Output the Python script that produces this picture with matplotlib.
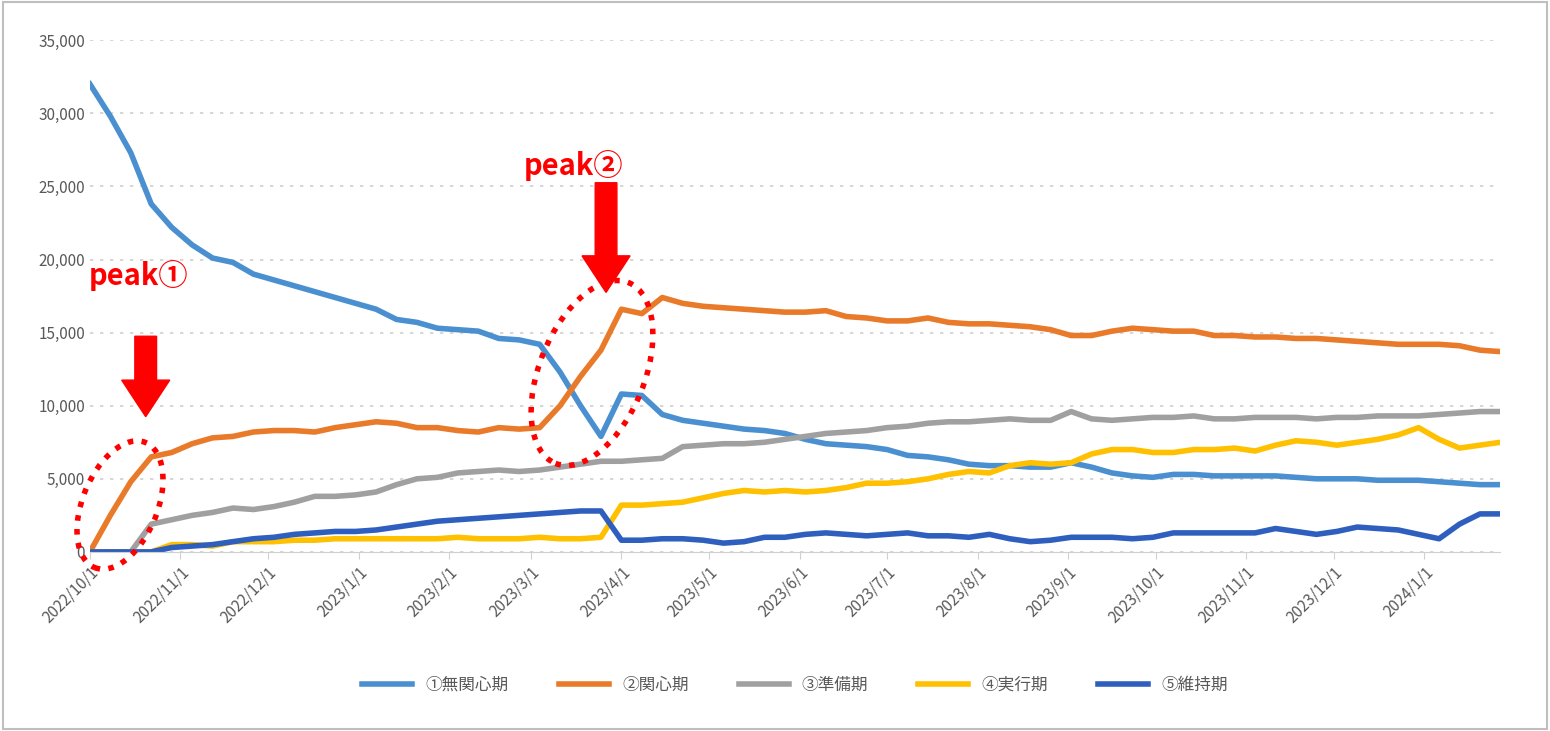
import matplotlib
matplotlib.use("Agg")
import matplotlib.pyplot as plt
from matplotlib.patches import Ellipse, FancyArrow
import pandas as pd

dates = pd.date_range("2022-10-01", periods=70, freq="7D")
s1 = [32000,29800,27300,23800,22200,21000,20100,19800,19000,18600,18200,17800,17400,17000,16600,15900,15700,15300,15200,15100,
      14600,14500,14200,12300,10000,7900,10800,10700,9400,9000,8800,8600,8400,8300,8100,7700,7400,7300,7200,7000,
      6600,6500,6300,6000,5900,5900,5800,5800,6100,5800,5400,5200,5100,5300,5300,5200,5200,5200,5200,5100,
      5000,5000,5000,4900,4900,4900,4800,4700,4600,4600]
s2 = [0,2500,4800,6500,6800,7400,7800,7900,8200,8300,8300,8200,8500,8700,8900,8800,8500,8500,8300,8200,
      8500,8400,8500,10000,12000,13800,16600,16300,17400,17000,16800,16700,16600,16500,16400,16400,16500,16100,16000,15800,
      15800,16000,15700,15600,15600,15500,15400,15200,14800,14800,15100,15300,15200,15100,15100,14800,14800,14700,14700,14600,
      14600,14500,14400,14300,14200,14200,14200,14100,13800,13700]
s3 = [0,0,0,1900,2200,2500,2700,3000,2900,3100,3400,3800,3800,3900,4100,4600,5000,5100,5400,5500,
      5600,5500,5600,5800,6000,6200,6200,6300,6400,7200,7300,7400,7400,7500,7700,7900,8100,8200,8300,8500,
      8600,8800,8900,8900,9000,9100,9000,9000,9600,9100,9000,9100,9200,9200,9300,9100,9100,9200,9200,9200,
      9100,9200,9200,9300,9300,9300,9400,9500,9600,9600]
s4 = [0,0,0,0,500,500,400,700,700,700,800,800,900,900,900,900,900,900,1000,900,
      900,900,1000,900,900,1000,3200,3200,3300,3400,3700,4000,4200,4100,4200,4100,4200,4400,4700,4700,
      4800,5000,5300,5500,5400,5900,6100,6000,6100,6700,7000,7000,6800,6800,7000,7000,7100,6900,7300,7600,
      7500,7300,7500,7700,8000,8500,7700,7100,7300,7500]
s5 = [0,0,0,0,300,400,500,700,900,1000,1200,1300,1400,1400,1500,1700,1900,2100,2200,2300,
      2400,2500,2600,2700,2800,2800,800,800,900,900,800,600,700,1000,1000,1200,1300,1200,1100,1200,
      1300,1100,1100,1000,1200,900,700,800,1000,1000,1000,900,1000,1300,1300,1300,1300,1300,1600,1400,
      1200,1400,1700,1600,1500,1200,900,1900,2600,2600]
names = ["①無関心期","②関心期","③準備期","④実行期","⑤維持期"]
colors = ["#4a90d0","#e87a2a","#a0a0a0","#ffc000","#2e5fbf"]
tick_labels = ["2022/10/1","2022/11/1","2022/12/1","2023/1/1","2023/2/1","2023/3/1","2023/4/1","2023/5/1",
               "2023/6/1","2023/7/1","2023/8/1","2023/9/1","2023/10/1","2023/11/1","2023/12/1","2024/1/1"]

plt.rcParams["font.family"] = ["Noto Sans CJK JP"]
fig = plt.figure(figsize=(15.5, 7.31), dpi=100)
ax = fig.add_axes([0.058, 0.245, 0.910, 0.700])
for s, n, c in zip([s1,s2,s3,s4,s5], names, colors):
    ax.plot(dates, s, color=c, lw=4, label=n, solid_joinstyle="round")
ax.set_ylim(0, 35000)
ax.set_xlim(dates[0], dates[-1])
ax.set_yticks(range(0, 35001, 5000))
ax.set_yticklabels([f"{v:,}" for v in range(0, 35001, 5000)], color="#595959", fontsize=11)
ax.yaxis.grid(True, ls=(0, (2, 4)), color="#d0d0d0", lw=1.2)
ticks = pd.to_datetime(tick_labels, format="%Y/%m/%d")
ax.set_xticks(ticks)
ax.set_xticklabels(tick_labels, rotation=45, ha="right", rotation_mode="anchor", color="#595959", fontsize=11)
ax.tick_params(axis="y", length=0)
ax.tick_params(axis="x", length=5, color="#d0d0d0")
for sp in ["top", "right", "left"]:
    ax.spines[sp].set_visible(False)
ax.spines["bottom"].set_color("#d0d0d0")
ax.legend(loc="upper center", bbox_to_anchor=(0.5, -0.215), ncol=5, frameon=False,
          fontsize=12, handlelength=3, columnspacing=3, labelcolor="#595959")

tf = {"color": "#ff0000", "fontsize": 21, "fontweight": "bold", "transform": fig.transFigure}
fig.text(0.057, 0.61, "peak①", **tf)
fig.text(0.338, 0.76, "peak②", **tf)
fig.patches.append(FancyArrow(0.094, 0.54, 0, -0.11, width=0.014, head_width=0.031, head_length=0.05,
                              length_includes_head=True, color="#ff0000", transform=fig.transFigure))
fig.patches.append(FancyArrow(0.391, 0.75, 0, -0.15, width=0.014, head_width=0.031, head_length=0.05,
                              length_includes_head=True, color="#ff0000", transform=fig.transFigure))
ins = fig.dpi_scale_trans
fig.patches.append(Ellipse((1.2, 2.26), 0.75, 1.35, angle=-22, fill=False, ec="#ff0000", lw=4,
                           ls=(0, (1, 1.5)), transform=ins))
fig.patches.append(Ellipse((5.92, 3.58), 1.05, 1.95, angle=-22, fill=False, ec="#ff0000", lw=4,
                           ls=(0, (1, 1.5)), transform=ins))
fig.patches.append(plt.Rectangle((0.002, 0.003), 0.996, 0.994, fill=False, ec="#bfbfbf", lw=1.5,
                                 transform=fig.transFigure))
fig.savefig("out.png", dpi=100)
